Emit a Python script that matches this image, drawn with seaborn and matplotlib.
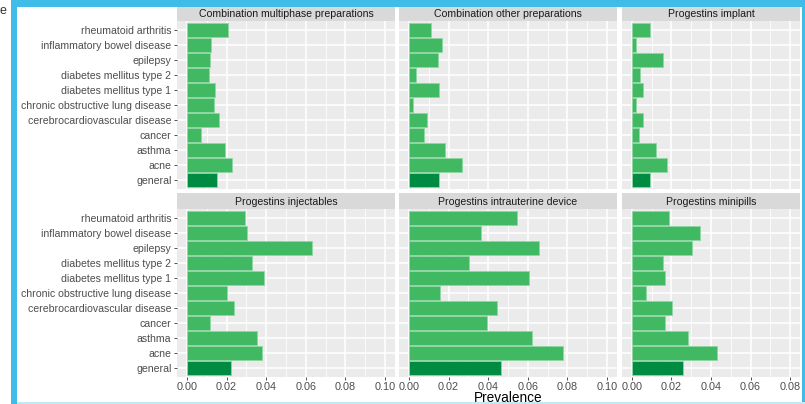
import matplotlib
matplotlib.use("Agg")
import matplotlib.pyplot as plt
import matplotlib.patches as mpatches
import seaborn as sns
import pandas as pd
import numpy as np

plt.rcParams["font.family"] = ["Liberation Sans", "DejaVu Sans"]

conditions = [
    "rheumatoid arthritis", "inflammatory bowel disease", "epilepsy",
    "diabetes mellitus type 2", "diabetes mellitus type 1",
    "chronic obstructive lung disease", "cerebrocardiovascular disease",
    "cancer", "asthma", "acne", "general",
]

combination_multiphase = [0.0207, 0.0123, 0.0119, 0.0111, 0.0144, 0.0139, 0.0160, 0.0072, 0.0193, 0.0227, 0.0151]
combination_other = [0.0111, 0.0165, 0.0145, 0.0038, 0.0153, 0.0020, 0.0089, 0.0077, 0.0182, 0.0267, 0.0153]
progestins_implant = [0.0091, 0.0020, 0.0155, 0.0040, 0.0054, 0.0020, 0.0057, 0.0037, 0.0124, 0.0178, 0.0091]
progestins_injectables = [0.0291, 0.0302, 0.0630, 0.0329, 0.0391, 0.0202, 0.0240, 0.0114, 0.0353, 0.0378, 0.0222]
progestins_iud = [0.0547, 0.0365, 0.0658, 0.0304, 0.0607, 0.0156, 0.0442, 0.0394, 0.0619, 0.0780, 0.0466]
progestins_minipills = [0.0188, 0.0343, 0.0306, 0.0155, 0.0168, 0.0071, 0.0205, 0.0168, 0.0284, 0.0429, 0.0259]

panel_titles = [
    "Combination multiphase preparations", "Combination other preparations",
    "Progestins implant", "Progestins injectables",
    "Progestins intrauterine device", "Progestins minipills",
]
panel_values = [combination_multiphase, combination_other, progestins_implant,
                progestins_injectables, progestins_iud, progestins_minipills]

x_ticks_wide = [0.00, 0.02, 0.04, 0.06, 0.08, 0.10]
x_ticks_narrow = [0.00, 0.02, 0.04, 0.06, 0.08]

W, H = 805, 404
fig = plt.figure(figsize=(W / 100, H / 100), dpi=100)
fig.patch.set_facecolor("white")

col_px = [(177, 395), (399, 617), (622, 800)]
row_px = [(21, 189), (209, 377)]
strip_h = 16
col_xlim = [(-0.005, 0.105), (-0.005, 0.105), (-0.005, 0.085)]

light_green = "#41B862"
dark_green = "#008B43"
tick_col = "#4D4D4D"
fs = 7.6

def px_rect(x0, x1, y0, y1):
    return [x0 / W, 1 - y1 / H, (x1 - x0) / W, (y1 - y0) / H]

for i, (title, vals) in enumerate(zip(panel_titles, panel_values)):
    r, c = divmod(i, 3)
    x0, x1 = col_px[c]
    y0, y1 = row_px[r]
    ax = fig.add_axes(px_rect(x0, x1, y0, y1))
    df = pd.DataFrame({
        "condition": conditions,
        "prevalence": vals,
        "group": ["general" if k == "general" else "condition" for k in conditions],
    })
    ax.set_facecolor("#EBEBEB")
    ax.set_axisbelow(True)
    sns.barplot(data=df, x="prevalence", y="condition", hue="group",
                order=conditions, hue_order=["condition", "general"],
                palette={"condition": light_green, "general": dark_green},
                dodge=False, width=0.88, saturation=1, edgecolor="#8FD8A4",
                linewidth=0.6, legend=False, ax=ax)
    ax.set_xlim(*col_xlim[c])
    ax.set_ylim(len(conditions) - 0.4, -0.6)
    ticks = x_ticks_narrow if c == 2 else x_ticks_wide
    ax.set_xticks(ticks)
    ax.set_xticks(np.arange(0.01, ticks[-1] + 0.001, 0.02), minor=True)
    ax.grid(True, which="major", axis="both", color="white", linewidth=1.1)
    ax.grid(True, which="minor", axis="x", color="white", linewidth=0.55)
    for s in ax.spines.values():
        s.set_visible(False)
    ax.set_xlabel("")
    ax.set_ylabel("")
    ax.tick_params(axis="both", which="minor", length=0)
    if r == 1:
        ax.set_xticklabels([f"{t:.2f}" for t in ticks])
        ax.tick_params(axis="x", which="major", length=2.5, width=0.6,
                       color="#333333", labelcolor=tick_col, labelsize=7.8, pad=1)
    else:
        ax.tick_params(axis="x", which="major", length=0, labelbottom=False)
    if c == 0:
        ax.tick_params(axis="y", length=2.5, width=0.6, color="#333333",
                       labelcolor=tick_col, labelsize=fs, pad=1.5)
    else:
        ax.tick_params(axis="y", length=0, labelleft=False)

    # facet strip
    sax = fig.add_axes(px_rect(x0, x1, y0 - strip_h, y0))
    sax.set_facecolor("#D9D9D9")
    sax.set_xticks([])
    sax.set_yticks([])
    for s in sax.spines.values():
        s.set_visible(False)
    sax.text(0.5, 0.45, title, ha="center", va="center", fontsize=fs,
             color="#1A1A1A", transform=sax.transAxes)

fig.text(508 / W, 1 - 398 / H, "Prevalence", ha="center", va="center",
         fontsize=9.8, color="black")

# surrounding frame
frame_blue = "#40BCE9"
fig.patches.append(mpatches.Rectangle((0, 0), 11 / W, 1, transform=fig.transFigure,
                                      facecolor="white", edgecolor="none", zorder=5))
fig.patches.append(mpatches.Rectangle((11 / W, 0), 6 / W, 1, transform=fig.transFigure,
                                      facecolor=frame_blue, edgecolor="none", zorder=6))
fig.patches.append(mpatches.Rectangle((11 / W, 1 - 7 / H), 1 - 11 / W, 7 / H,
                                      transform=fig.transFigure, facecolor=frame_blue,
                                      edgecolor="none", zorder=6))
fig.patches.append(mpatches.Rectangle((802 / W, 0), 3 / W, 1, transform=fig.transFigure,
                                      facecolor=frame_blue, edgecolor="none", zorder=6))
fig.patches.append(mpatches.Rectangle((17 / W, 0), 1, 2 / H, transform=fig.transFigure,
                                      facecolor="#BDEBF7", edgecolor="none", zorder=6))
fig.text(0, 1 - 11 / H, "e", ha="left", va="center", fontsize=9, color="#333333", zorder=7)

fig.savefig("out.png", dpi=100, facecolor="white")
